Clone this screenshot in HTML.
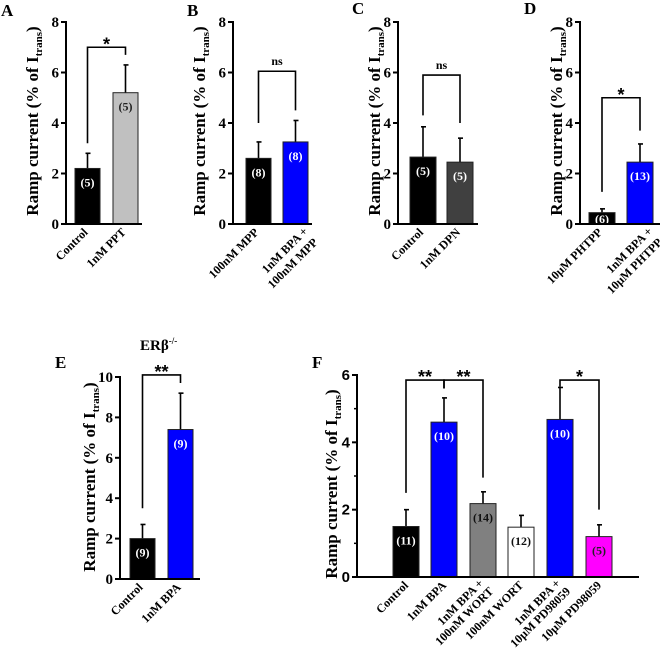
<!DOCTYPE html>
<html><head><meta charset="utf-8"><style>
html,body{margin:0;padding:0;background:#fff;}
svg{display:block;font-family:"Liberation Serif",serif;font-weight:bold;}
</style></head><body>
<svg id="fig" width="660" height="648" viewBox="0 0 660 648" xmlns="http://www.w3.org/2000/svg"></svg>
<script>
// ---- data ----
const catsA=["Control","1nM PPT"]; const valsA=[2.2,5.2]; const errA=[0.6,1.1]; const nA=["(5)","(5)"];
const catsB=["100nM MPP","1nM BPA +|100nM MPP"]; const valsB=[2.6,3.25]; const errB=[0.65,0.85]; const nB=["(8)","(8)"];
const catsC=["Control","1nM DPN"]; const valsC=[2.65,2.45]; const errC=[1.2,0.95]; const nC=["(5)","(5)"];
const catsD=["10µM PHTPP","1nM BPA +|10µM PHTPP"]; const valsD=[0.45,2.45]; const errD=[0.15,0.72]; const nD=["(6)","(13)"];
const catsE=["Control","1nM BPA"]; const valsE=[2.0,7.4]; const errE=[0.7,1.8]; const nE=["(9)","(9)"];
const catsF=["Control","1nM BPA","1nM BPA +|100nM WORT","100nM WORT","1nM BPA +|10µM PD98059","10µM PD98059"];
const valsF=[1.5,4.6,2.18,1.48,4.68,1.2]; const errF=[0.5,0.72,0.35,0.35,0.95,0.35]; const nF=["(11)","(10)","(14)","(12)","(10)","(5)"];
const ticks8=[0,2,4,6,8]; const ticks10=[0,2,4,6,8,10]; const ticks6=[0,2,4,6];

const NS="http://www.w3.org/2000/svg";
const svg=document.getElementById('fig');
function mk(tag,attrs,parent,text){const e=document.createElementNS(NS,tag);for(const k in attrs)e.setAttribute(k,attrs[k]);if(text!==undefined)e.textContent=text;(parent||svg).appendChild(e);return e;}

function panel(p){
  const g=mk('g',{});
  
  
  const y=v=>p.yb-(v/p.max)*(p.yb-p.yt);
  const cx=i=>p.barX[i]+p.bw/2;
  p.vals.forEach((v,i)=>{
    const top=y(v+p.err[i]);
    const el=mk('line',{x1:cx(i),x2:cx(i),y1:y(v),y2:top,stroke:'#000','stroke-width':1.6},g);
    
    
    const cap=mk('line',{x1:cx(i)-2,x2:cx(i)+3,y1:top,y2:top,stroke:'#000','stroke-width':1.6},g);
    
    
    const r=mk('rect',{x:p.barX[i],y:y(v),width:p.bw,height:p.yb-y(v),fill:p.colors[i],stroke:'#222','stroke-width':1},g);
    
    
    const ly=Math.min(y(v)+18,p.yb-1);
    const t=mk('text',{x:cx(i),y:ly,'text-anchor':'middle','font-size':12,fill:p.ncol[i]},g,p.n[i]);
    
    
    const lines=p.cats[i].split('|');
    lines.forEach((ln,j)=>{
      let ex,ey;
      if(lines.length===1){ex=cx(i)+p.sl[0];ey=p.yb+p.sl[1];}
      else if(j===0){ex=cx(i)+p.tl[0];ey=p.yb+p.tl[1];}
      else{ex=cx(i)+p.tl[2];ey=p.yb+p.tl[3];}
      const xt=mk('text',{x:ex,y:ey,'text-anchor':'end','font-size':12,transform:`rotate(-45 ${ex} ${ey})`},g,ln);
      
      
    });
  });
  const ya=mk('line',{x1:p.ax,x2:p.ax,y1:p.yt-1,y2:p.yb+1,stroke:'#000','stroke-width':2},g);
  
  
  const xa=mk('line',{x1:p.ax-1,x2:p.xEnd,y1:p.yb,y2:p.yb,stroke:'#000','stroke-width':2},g);
  
  
  p.ticks.forEach(tv=>{
    mk('line',{x1:p.ax-5,x2:p.ax,y1:y(tv),y2:y(tv),stroke:'#000','stroke-width':2},g);
    const tl=mk('text',{x:p.ax-7,y:y(tv)+5,'text-anchor':'end','font-size':15,'font-family':p.sans?'Liberation Sans, sans-serif':'Liberation Serif, serif'},g,String(tv));
    
    
  });
  if(p.minor){p.minor.forEach(tv=>mk('line',{x1:p.ax-3,x2:p.ax,y1:y(tv),y2:y(tv),stroke:'#000','stroke-width':1.5},g));}
  const tt=mk('text',{x:p.tx,y:p.tc,'text-anchor':'middle','font-size':17,transform:`rotate(-90 ${p.tx} ${p.tc})`},g);
  
  
  mk('tspan',{},tt,'Ramp current (% of I');
  mk('tspan',{'font-size':11,dy:4},tt,'trans');
  mk('tspan',{dy:-4},tt,')');
  const pl=mk('text',{x:p.lx,y:p.ly,'font-size':17},g,p.id);
  
  
  p.brackets.forEach(b=>{
    const x1=cx(b.a),x2=cx(b.b),by=y(b.h);
    const d=`M${x1},${y(b.la)}V${by}H${x2}V${y(b.lb)}`;
    const br=mk('path',{d:d,fill:'none',stroke:'#000','stroke-width':1.6},g);
    
    
    const isNs=b.t==='ns';
    const st=mk('text',{x:(x1+x2)/2,y:isNs?by-6:by+3,'text-anchor':'middle','font-size':isNs?12:18,'font-family':isNs?'Liberation Serif, serif':'Liberation Sans, sans-serif'},g,b.t);
    
    
  });
}
const wc='#fff';
const SL=[1,9], TL=[13,8,23,19];
panel({id:'A',ax:66,yb:224,yt:22,max:8,xEnd:142,barX:[75,113],bw:25,vals:valsA,err:errA,n:nA,cats:catsA,ticks:ticks8,sl:SL,tl:TL,
  colors:['#000','#c0c0c0'],ncol:[wc,'#222'],tx:38,tc:121,lx:1,ly:16,
  brackets:[{a:0,b:1,h:7.0,la:3.2,lb:6.7,t:'*'}]});
panel({id:'B',ax:233,yb:224,yt:22,max:8,xEnd:312,barX:[246,283],bw:25,vals:valsB,err:errB,n:nB,cats:catsB,ticks:ticks8,sl:SL,tl:TL,
  colors:['#000','#0000ff'],ncol:[wc,wc],tx:205,tc:121,lx:187,ly:16,
  brackets:[{a:0,b:1,h:6.05,la:4.0,lb:4.5,t:'ns'}]});
panel({id:'C',ax:398,yb:224,yt:22,max:8,xEnd:478,barX:[410,447],bw:26,vals:valsC,err:errC,n:nC,cats:catsC,ticks:ticks8,sl:SL,tl:TL,
  colors:['#000','#404040'],ncol:[wc,wc],tx:380,tc:121,lx:352,ly:14,
  brackets:[{a:0,b:1,h:5.9,la:4.3,lb:4.0,t:'ns'}]});
panel({id:'D',ax:580,yb:224,yt:22,max:8,xEnd:660,barX:[589,627],bw:26,vals:valsD,err:errD,n:nD,cats:catsD,ticks:ticks8,sl:SL,tl:TL,
  colors:['#000','#0000ff'],ncol:[wc,wc],tx:562,tc:121,lx:524,ly:14,
  brackets:[{a:0,b:1,h:5.0,la:1.27,lb:3.7,t:'*'}]});
panel({id:'E',ax:120,yb:579,yt:377,max:10,xEnd:200,barX:[130,168],bw:25,vals:valsE,err:errE,n:nE,cats:catsE,ticks:ticks10,sl:SL,tl:TL,
  colors:['#000','#0000ff'],ncol:[wc,wc],tx:95,tc:477,lx:55,ly:368,
  brackets:[{a:0,b:1,h:10.1,la:3.5,lb:9.7,t:'**'}]});
panel({id:'F',ax:357,yb:577,yt:375,max:6,xEnd:639,barX:[393,431,470,508,547,586],bw:26,vals:valsF,err:errF,n:nF,cats:catsF,ticks:ticks6,minor:[1,3,5],sans:true,
  sl:[3,9],tl:[1,7,11,15],
  colors:['#000','#0000ff','#808080','#fff','#0000ff','#ff00ff'],ncol:[wc,wc,'#111','#111',wc,'#222'],tx:337,tc:484,lx:312,ly:368,
  brackets:[{a:0,b:1,h:5.85,la:2.5,lb:5.6,t:'**'},{a:1,b:2,h:5.85,la:5.6,lb:2.95,t:'**'},{a:4,b:5,h:5.85,la:5.65,lb:2.0,t:'*'}]});
const er=mk('text',{x:140,y:350,'font-size':15});


mk('tspan',{},er,'ERβ');
mk('tspan',{'font-size':9,dy:-6},er,'-/-');
</script>
</body></html>
